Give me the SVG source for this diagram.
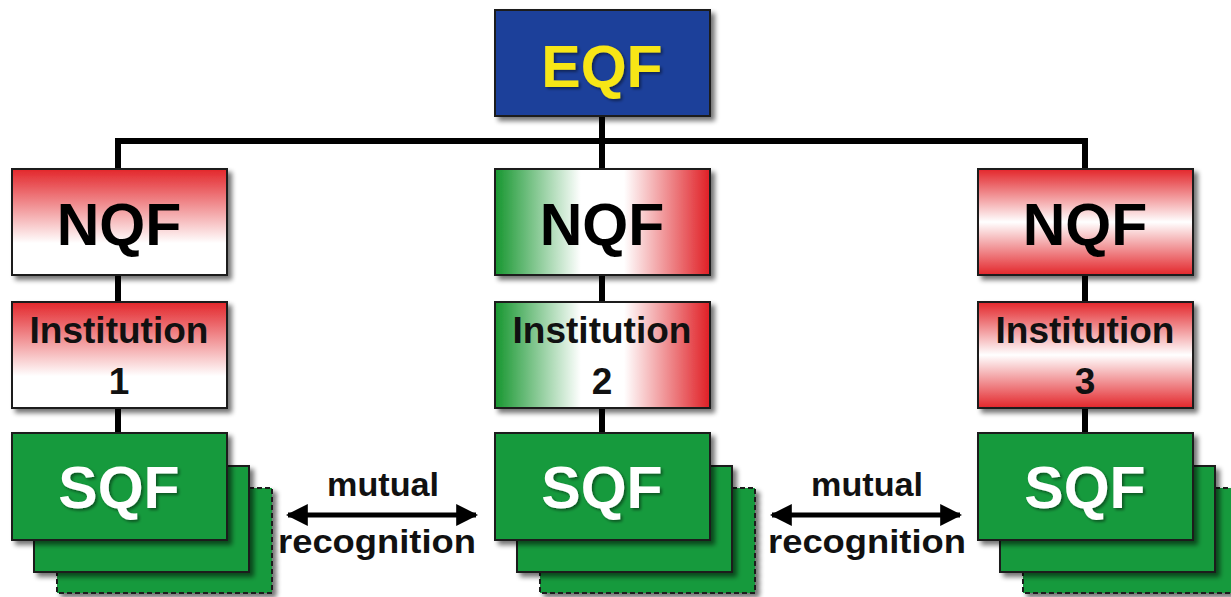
<svg xmlns="http://www.w3.org/2000/svg" width="1231" height="597" viewBox="0 0 1231 597">
<defs>
<style>
.box{stroke:#1a1a1a;stroke-width:2;filter:url(#sh)}
.big{font-family:"Liberation Sans",Arial,sans-serif;font-weight:bold;font-size:59px;text-anchor:middle}
.inst{font-family:"Liberation Sans",Arial,sans-serif;font-weight:bold;font-size:37px;text-anchor:middle;fill:#111}
.lbl{font-family:"Liberation Sans",Arial,sans-serif;font-weight:bold;font-size:34px;text-anchor:middle;fill:#111}
.conn{stroke:#000;stroke-width:6;fill:none}
.arr{stroke:#000;stroke-width:5;fill:none}
.sqf{fill:#129a3c}
</style>
<filter id="sh" x="-10%" y="-10%" width="125%" height="130%">
<feGaussianBlur in="SourceAlpha" stdDeviation="2.5"/>
<feOffset dx="4" dy="4" result="b"/>
<feComponentTransfer><feFuncA type="linear" slope="0.55"/></feComponentTransfer>
<feMerge><feMergeNode/><feMergeNode in="SourceGraphic"/></feMerge>
</filter>
<filter id="tsh" x="-10%" y="-10%" width="130%" height="130%">
<feGaussianBlur in="SourceAlpha" stdDeviation="1.5"/>
<feOffset dx="2" dy="2"/>
<feComponentTransfer><feFuncA type="linear" slope="0.45"/></feComponentTransfer>
<feMerge><feMergeNode/><feMergeNode in="SourceGraphic"/></feMerge>
</filter>
<linearGradient id="gRed1" x1="0" y1="0" x2="0" y2="1">
<stop offset="0" stop-color="#e3262b"/>
<stop offset="0.7" stop-color="#ffffff"/>
<stop offset="1" stop-color="#ffffff"/>
</linearGradient>
<linearGradient id="gItaly" x1="0" y1="0" x2="1" y2="0">
<stop offset="0" stop-color="#16962f"/>
<stop offset="0.4" stop-color="#ffffff"/>
<stop offset="0.6" stop-color="#ffffff"/>
<stop offset="1" stop-color="#e01f25"/>
</linearGradient>
<linearGradient id="gRed3" x1="0" y1="0" x2="0" y2="1">
<stop offset="0" stop-color="#e3262b"/>
<stop offset="0.5" stop-color="#ffffff"/>
<stop offset="1" stop-color="#e3262b"/>
</linearGradient>
<marker id="ah" viewBox="0 0 10 10" refX="9" refY="5" markerWidth="4.4" markerHeight="4.4" orient="auto-start-reverse" markerUnits="strokeWidth">
<path d="M0,0 L10,5 L0,10 Z" fill="#000"/>
</marker>
</defs>
<rect width="1231" height="597" fill="#ffffff"/>

<g id="connectors">
<path class="conn" d="M602,116 V141 M118,141 H1088 M118,138 V169 M602,141 V169 M1085,138 V169"/>
<path class="conn" d="M118,275 V302 M602,275 V302 M1085,275 V302"/>
<path class="conn" d="M118,408 V433 M602,408 V433 M1085,408 V433"/>
<line class="arr" x1="288" y1="515" x2="476" y2="515" marker-start="url(#ah)" marker-end="url(#ah)"/>
<line class="arr" x1="772" y1="515" x2="960" y2="515" marker-start="url(#ah)" marker-end="url(#ah)"/>
</g>

<g id="eqf">
<rect class="box" x="495" y="10" width="215" height="106" fill="#1f419a"/>
<text class="big" x="602" y="87" fill="#f7e619" filter="url(#tsh)">EQF</text>
</g>

<g id="nqf1">
<rect class="box" x="12" y="169" width="215" height="106" fill="url(#gRed1)"/>
<text class="big" x="119" y="245" fill="#000">NQF</text>
</g>
<g id="nqf2">
<rect class="box" x="495" y="169" width="215" height="106" fill="url(#gItaly)"/>
<text class="big" x="602" y="245" fill="#000">NQF</text>
</g>
<g id="nqf3">
<rect class="box" x="978" y="169" width="215" height="106" fill="url(#gRed3)"/>
<text class="big" x="1085" y="245" fill="#000">NQF</text>
</g>

<g id="inst1">
<rect class="box" x="12" y="302" width="215" height="106" fill="url(#gRed1)"/>
<text class="inst" x="119" y="343">Institution</text>
<text class="inst" x="119" y="394">1</text>
</g>
<g id="inst2">
<rect class="box" x="495" y="302" width="215" height="106" fill="url(#gItaly)"/>
<text class="inst" x="602" y="343">Institution</text>
<text class="inst" x="602" y="394">2</text>
</g>
<g id="inst3">
<rect class="box" x="978" y="302" width="215" height="106" fill="url(#gRed3)"/>
<text class="inst" x="1085" y="343">Institution</text>
<text class="inst" x="1085" y="394">3</text>
</g>

<g id="sqf1">
<rect class="box sqf" x="57" y="488" width="215" height="105" stroke-dasharray="5,3"/>
<rect class="box sqf" x="34" y="466" width="215" height="106"/>
<rect class="box sqf" x="12" y="433" width="215" height="107"/>
<text class="big" x="119" y="508" fill="#ffffff" filter="url(#tsh)">SQF</text>
</g>
<g id="sqf2">
<rect class="box sqf" x="540" y="488" width="215" height="105" stroke-dasharray="5,3"/>
<rect class="box sqf" x="517" y="466" width="215" height="106"/>
<rect class="box sqf" x="495" y="433" width="215" height="107"/>
<text class="big" x="602" y="508" fill="#ffffff" filter="url(#tsh)">SQF</text>
</g>
<g id="sqf3">
<rect class="box sqf" x="1023" y="488" width="215" height="105" stroke-dasharray="5,3"/>
<rect class="box sqf" x="1000" y="466" width="215" height="106"/>
<rect class="box sqf" x="978" y="433" width="215" height="107"/>
<text class="big" x="1085" y="508" fill="#ffffff" filter="url(#tsh)">SQF</text>
</g>

<g id="label1">
<text class="lbl" x="383" y="496" textLength="112" lengthAdjust="spacingAndGlyphs">mutual</text>
<text class="lbl" x="377" y="553" textLength="198" lengthAdjust="spacingAndGlyphs">recognition</text>
</g>
<g id="label2">
<text class="lbl" x="867" y="496" textLength="112" lengthAdjust="spacingAndGlyphs">mutual</text>
<text class="lbl" x="867" y="553" textLength="198" lengthAdjust="spacingAndGlyphs">recognition</text>
</g>
</svg>
